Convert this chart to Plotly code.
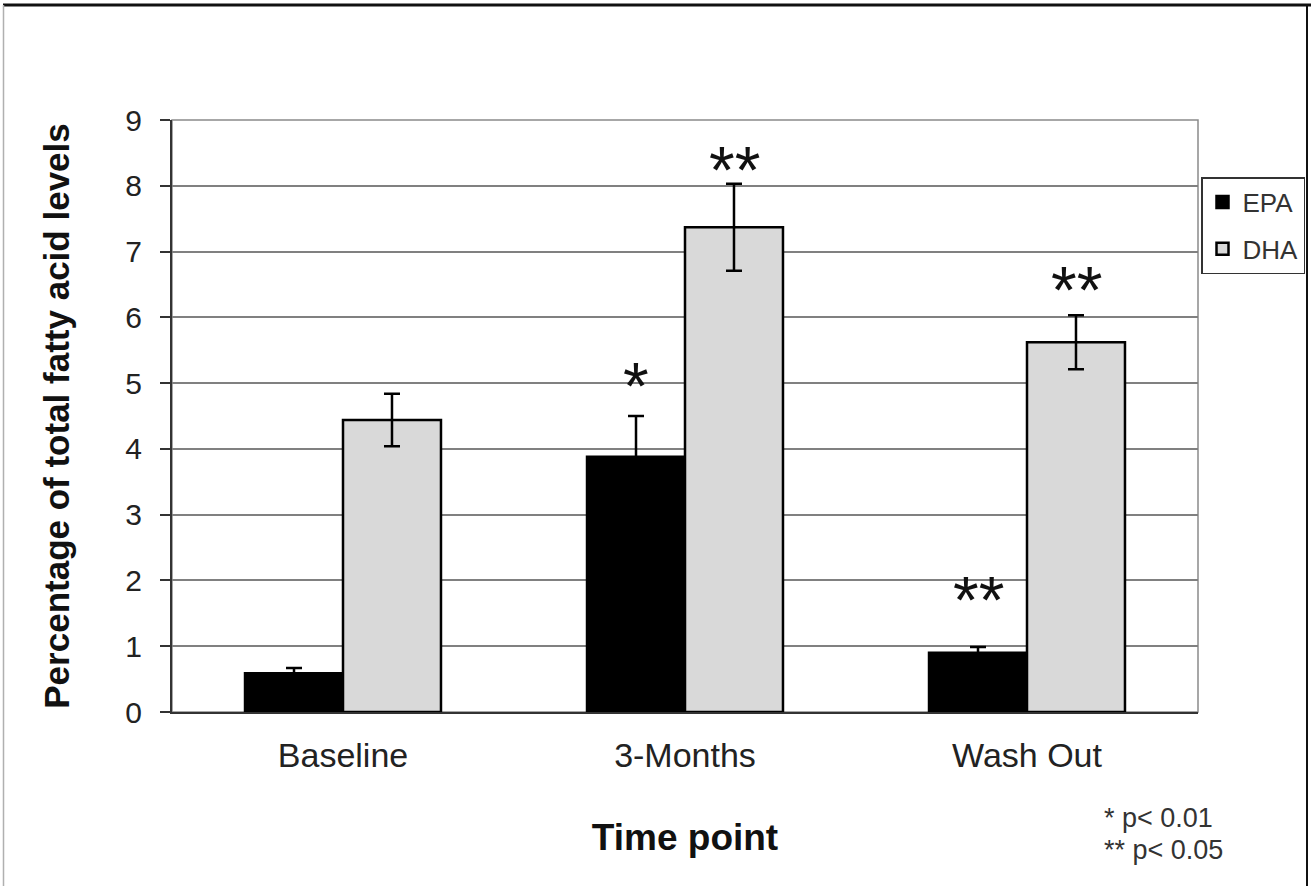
import plotly.graph_objects as go

categories = ["Baseline", "3-Months", "Wash Out"]
epa_values = [0.59, 3.88, 0.90]
epa_errors = [0.08, 0.62, 0.09]
dha_values = [4.44, 7.37, 5.62]
dha_errors = [0.40, 0.66, 0.41]

# significance markers: (category, series, label, y position in data units)
sig_categories = ["3-Months", "3-Months", "Wash Out", "Wash Out"]
sig_series = ["EPA", "DHA", "EPA", "DHA"]
sig_labels = ["*", "**", "**", "**"]
sig_y = [4.95, 8.24, 1.70, 6.41]

y_ticks = [0, 1, 2, 3, 4, 5, 6, 7, 8, 9]

FONT = "Liberation Sans, Arial, sans-serif"
W, H = 1314, 886
L, R, T, B = 172, 116, 120, 174
PW, PH = W - L - R, H - T - B

def px_x(p):
    return (p - L) / PW

def px_y(p):
    return (H - B - p) / PH

fig = go.Figure()
fig.add_trace(go.Bar(
    name="EPA", x=categories, y=epa_values, legendgroup="epa",
    error_y=dict(type="data", array=epa_errors, visible=True, color="black", thickness=2.5, width=8),
    marker=dict(color="black", line=dict(color="black", width=2.5)),
))
fig.add_trace(go.Bar(
    name="DHA", x=categories, y=dha_values, legendgroup="dha",
    error_y=dict(type="data", array=dha_errors, visible=True, color="black", thickness=2.5, width=8),
    marker=dict(color="#d9d9d9", line=dict(color="black", width=2.5)),
))

for c, s, lab, yv in zip(sig_categories, sig_series, sig_labels, sig_y):
    fig.add_annotation(
        x=c, y=yv, xref="x", yref="y", text=lab, showarrow=False,
        xshift=-49 if s == "EPA" else 49, yanchor="middle",
        font=dict(family=FONT, size=66, color="#111"),
    )

foot_lines = ["* p< 0.01", "** p< 0.05"]
foot_y = [818, 850]
for txt, yy in zip(foot_lines, foot_y):
    fig.add_annotation(
        x=px_x(1102), y=px_y(yy), xref="paper", yref="paper", xanchor="left", yanchor="middle",
        text=txt, align="left", showarrow=False, font=dict(family=FONT, size=27, color="#333"),
    )

# plot frame (top / right in grey)
fig.add_shape(type="rect", xref="paper", yref="paper", x0=0, x1=1, y0=0, y1=1,
              line=dict(color="#8a8a8a", width=1.5), layer="below")
# outer figure border
fig.add_shape(type="line", xref="paper", yref="paper", x0=px_x(3), x1=px_x(1311), y0=px_y(5), y1=px_y(5),
              line=dict(color="#111", width=3))
fig.add_shape(type="line", xref="paper", yref="paper", x0=px_x(3.5), x1=px_x(3.5), y0=px_y(5), y1=px_y(890),
              line=dict(color="#b0b0b0", width=1.5))
fig.add_shape(type="line", xref="paper", yref="paper", x0=px_x(1307), x1=px_x(1307), y0=px_y(5), y1=px_y(890),
              line=dict(color="#111", width=2))

fig.update_layout(
    width=W, height=H,
    margin=dict(l=L, r=R, t=T, b=B, autoexpand=False),
    paper_bgcolor="white", plot_bgcolor="white",
    barmode="group", bargap=0.427, bargroupgap=0,
    font=dict(family=FONT, color="#222"),
    showlegend=True,
    legend=dict(
        x=px_x(1201), y=px_y(177), xanchor="left", yanchor="top",
        bordercolor="#333", borderwidth=1.5, bgcolor="white",
        font=dict(family=FONT, size=26, color="#333"),
        itemwidth=30, tracegroupgap=10, traceorder="grouped",
    ),
    xaxis=dict(
        showline=True, linecolor="#333", linewidth=2, ticks="",
        tickfont=dict(family=FONT, size=34, color="#222"), ticklabelstandoff=12,
        title=dict(text="<b>Time point</b>", font=dict(family=FONT, size=37, color="#111"), standoff=51),
        fixedrange=True,
    ),
    yaxis=dict(
        range=[0, 9], tickvals=y_ticks, showgrid=True, gridcolor="#808080", gridwidth=1.5,
        showline=True, linecolor="#333", linewidth=2, ticks="outside", ticklen=10, tickcolor="#333",
        tickwidth=1.5, tickfont=dict(family=FONT, size=30, color="#222"), ticklabelstandoff=12,
        title=dict(text="<b>Percentage of total fatty acid levels</b>", font=dict(family=FONT, size=35, color="#111"), standoff=45),
        zeroline=False, fixedrange=True,
    ),
)

fig.write_html("out.html", config={"displayModeBar": False},
               post_script="document.body.style.margin='0px';")
